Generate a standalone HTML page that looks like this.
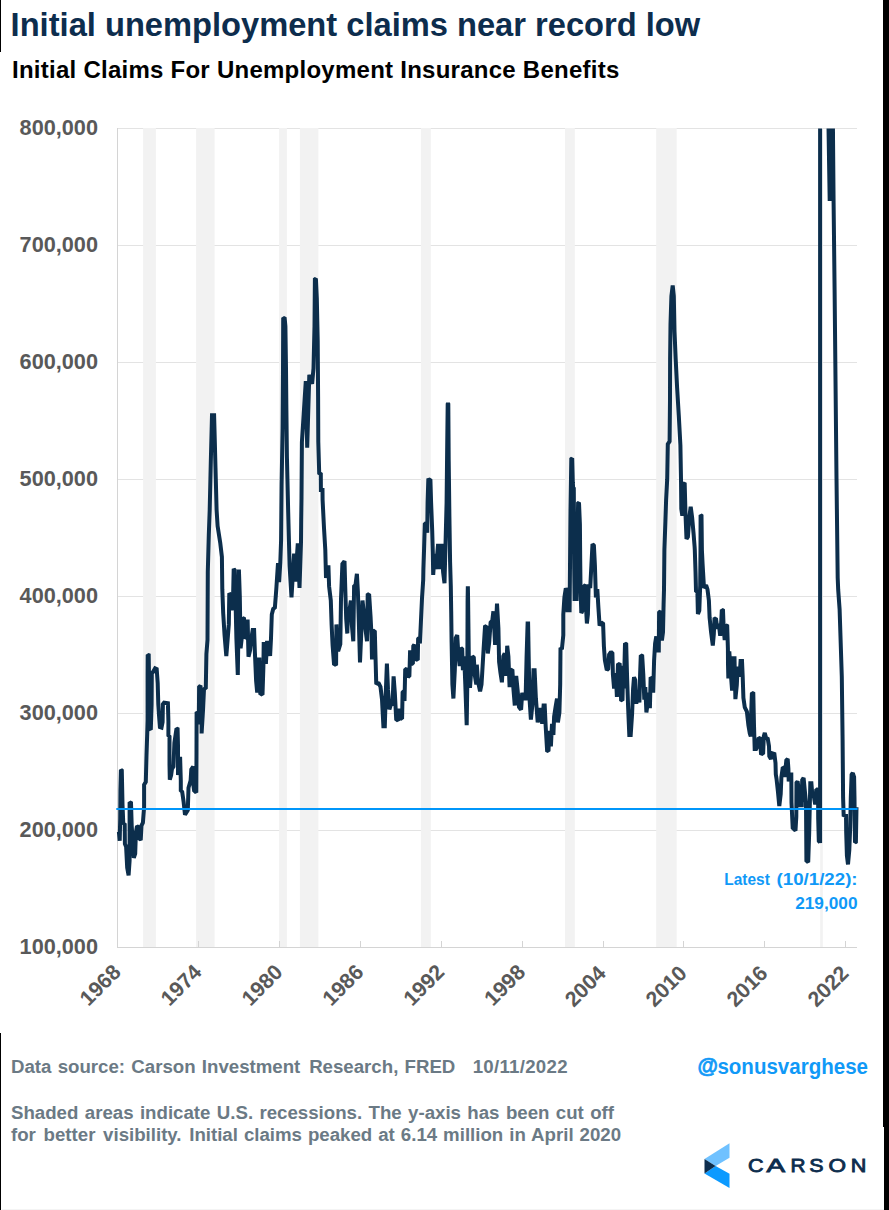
<!DOCTYPE html>
<html>
<head>
<meta charset="utf-8">
<title>Initial unemployment claims near record low</title>
<style>
  html,body{margin:0;padding:0;background:#fff;}
  body{width:889px;height:1210px;position:relative;overflow:hidden;font-family:"Liberation Sans",sans-serif;}
  .abs{position:absolute;white-space:nowrap;}
  #title{left:10.6px;top:4.8px;font-size:32.67px;font-weight:bold;color:#0d2d4d;line-height:40px;letter-spacing:0px;}
  #subtitle{left:12px;top:56.3px;letter-spacing:0.255px;font-size:24px;font-weight:bold;color:#000;line-height:28px;}
  .ylab{left:0;width:98px;text-align:right;font-size:21.7px;font-weight:bold;color:#595959;line-height:24px;}
  .foot{left:11px;font-size:18.67px;word-spacing:1.05px;font-weight:bold;color:#6b7a85;line-height:21.4px;}
  svg{position:absolute;left:0;top:0;}
</style>
</head>
<body>
<!-- edge bars -->
<div class="abs" style="left:0;top:0;width:1.3px;height:52px;background:#000;"></div>
<div class="abs" style="left:0;top:1033px;width:1.3px;height:177px;background:#000;"></div>
<div class="abs" style="left:883px;top:0;width:6px;height:1127px;background:#000;"></div>
<div class="abs" style="left:884.3px;top:1127px;width:4.7px;height:83px;background:#000;"></div>

<div class="abs" style="left:2px;top:1209px;width:882px;height:1px;background:#f4f4f4;"></div>
<div id="title" class="abs">Initial unemployment claims near record low</div>
<div id="subtitle" class="abs">Initial Claims For Unemployment Insurance Benefits</div>

<div class="abs ylab" style="top:115.7px;">800,000</div>
<div class="abs ylab" style="top:232.7px;">700,000</div>
<div class="abs ylab" style="top:349.7px;">600,000</div>
<div class="abs ylab" style="top:466.7px;">500,000</div>
<div class="abs ylab" style="top:583.7px;">400,000</div>
<div class="abs ylab" style="top:700.7px;">300,000</div>
<div class="abs ylab" style="top:817.7px;">200,000</div>
<div class="abs ylab" style="top:934.7px;">100,000</div>

<svg width="889" height="1210" viewBox="0 0 889 1210">
  <defs>
    <clipPath id="plot"><rect x="100" y="128.4" width="770" height="830"/></clipPath>
  </defs>
  <!-- gridlines -->
  <g stroke="#e3e3e3" stroke-width="1" fill="none" shape-rendering="crispEdges">
    <line x1="117.5" y1="128.5" x2="856.5" y2="128.5"/>
    <line x1="117.5" y1="245.5" x2="856.5" y2="245.5"/>
    <line x1="117.5" y1="362.5" x2="856.5" y2="362.5"/>
    <line x1="117.5" y1="479.5" x2="856.5" y2="479.5"/>
    <line x1="117.5" y1="596.5" x2="856.5" y2="596.5"/>
    <line x1="117.5" y1="713.5" x2="856.5" y2="713.5"/>
    <line x1="117.5" y1="830.5" x2="856.5" y2="830.5"/>
  </g>
  <!-- recession bands -->
  <g fill="#f2f2f2">
    <rect x="143.1" y="128" width="12.8" height="819"/>
    <rect x="196.1" y="128" width="18.5" height="819"/>
    <rect x="279.1" y="128" width="7.8" height="819"/>
    <rect x="299.9" y="128" width="18.5" height="819"/>
    <rect x="420.9" y="128" width="9.9" height="819"/>
    <rect x="565.0" y="128" width="9.8" height="819"/>
    <rect x="656.2" y="128" width="20.5" height="819"/>
    <rect x="820.2" y="128" width="2.6" height="819"/>
  </g>
  <!-- axes -->
  <g stroke="#d4d4d4" stroke-width="1" fill="none" shape-rendering="crispEdges">
    <line x1="117.5" y1="128" x2="117.5" y2="947.5"/>
    <line x1="117" y1="947.5" x2="856.5" y2="947.5"/>
    <line x1="198.5" y1="941" x2="198.5" y2="947"/>
    <line x1="279.5" y1="941" x2="279.5" y2="947"/>
    <line x1="360.5" y1="941" x2="360.5" y2="947"/>
    <line x1="441.5" y1="941" x2="441.5" y2="947"/>
    <line x1="522.5" y1="941" x2="522.5" y2="947"/>
    <line x1="603.5" y1="941" x2="603.5" y2="947"/>
    <line x1="683.5" y1="941" x2="683.5" y2="947"/>
    <line x1="764.5" y1="941" x2="764.5" y2="947"/>
    <line x1="845.5" y1="941" x2="845.5" y2="947"/>
  </g>
  <!-- data line -->
  <g clip-path="url(#plot)">
    <polyline fill="none" stroke="#0c2e4c" stroke-width="4" stroke-linejoin="miter" stroke-miterlimit="1.5" stroke-linecap="butt" points="118.9,831.8 119.7,840.7 120.2,818.5 120.4,790.3 120.9,769.9 121.8,770.6 122.5,804.4 123.3,824.1 124.7,823.4 124.9,843.8 126.1,846.6 127.2,867.7 128.6,875.4 129.6,860.6 129.6,818.5 129.6,802.3 131.0,803.0 131.7,825.5 132.8,843.8 133.8,857.8 135.2,853.6 135.9,832.5 137.0,826.2 138.4,826.9 139.0,839.5 140.8,838.8 141.5,825.5 142.9,822.7 144.1,807.2 144.1,784.7 145.8,781.9 146.5,755.2 147.2,734.1 147.6,720.0 147.6,710.3 147.6,675.2 147.7,654.8 148.7,655.2 149.1,682.2 149.8,728.6 150.2,729.2 150.8,729.8 151.6,704.5 151.8,673.9 153.4,671.2 155.1,668.3 156.7,669.0 157.7,683.0 158.3,704.5 159.0,715.0 159.9,727.1 161.5,727.6 162.6,722.0 162.9,704.3 164.1,702.7 167.9,703.2 168.4,721.5 168.4,735.5 169.5,736.6 169.5,764.5 169.8,779.6 171.1,775.3 172.0,768.8 173.5,766.7 174.4,743.0 176.5,728.5 177.6,729.0 178.0,745.5 178.0,775.0 178.7,766.6 180.1,756.7 180.8,780.6 180.8,790.5 182.2,791.9 183.6,801.7 185.0,814.8 187.8,810.2 188.5,787.7 190.6,780.6 191.3,769.4 193.2,766.6 193.2,783.5 194.1,790.5 196.3,792.6 196.5,752.5 196.6,713.1 197.9,712.4 198.8,724.4 199.1,687.1 200.5,685.7 201.6,710.3 201.6,733.5 203.0,710.3 204.0,689.2 205.8,687.8 206.4,654.1 207.5,640.0 207.8,571.5 208.8,535.0 209.7,510.0 210.8,462.0 212.0,415.2 214.1,415.2 214.8,441.0 215.5,468.0 216.6,510.0 217.6,526.0 220.2,542.6 221.9,557.0 222.3,589.2 223.2,613.1 224.6,635.6 226.3,656.0 227.7,638.5 228.8,624.4 229.3,593.4 230.8,594.9 231.6,610.3 233.0,600.5 233.7,568.8 234.7,570.2 235.5,599.1 236.4,638.5 237.8,675.0 238.3,638.5 238.9,569.5 239.8,596.3 240.6,648.3 241.7,638.5 242.6,618.1 244.0,618.8 244.8,638.5 246.2,637.0 247.6,619.5 248.5,656.7 250.2,649.7 251.3,638.5 252.7,630.0 254.1,630.0 254.9,652.5 256.1,680.6 257.2,692.6 258.3,659.5 259.4,659.5 260.3,693.3 262.5,694.7 263.4,666.6 263.7,644.1 265.1,644.1 265.9,663.8 267.0,642.7 268.4,642.7 270.1,656.0 271.0,638.5 271.8,614.5 273.2,608.9 274.9,607.5 276.3,589.2 278.0,563.2 279.1,582.2 280.3,562.5 281.1,540.0 281.6,484.4 282.6,428.0 283.0,370.0 283.2,317.8 284.7,318.5 285.4,326.3 286.0,368.5 286.4,410.6 286.9,456.3 288.2,512.5 289.6,566.0 291.5,597.3 294.1,553.5 295.2,581.7 297.8,543.4 299.5,588.0 301.0,542.3 301.2,520.0 301.5,498.0 301.9,442.2 303.7,414.1 305.8,381.1 307.2,447.8 309.3,374.8 312.1,383.9 313.5,368.5 314.5,326.3 314.9,279.4 315.9,278.7 316.8,298.1 317.7,340.3 318.1,396.6 318.3,442.0 319.2,473.0 320.8,474.0 320.9,490.0 322.5,490.0 322.6,500.0 324.0,528.0 325.3,550.0 326.0,578.0 328.4,565.3 329.1,586.4 330.8,600.5 331.6,624.4 332.6,645.5 334.0,663.8 336.1,665.2 336.4,624.4 337.2,649.7 338.6,649.7 340.3,644.1 341.0,599.1 342.4,563.9 344.5,561.1 345.2,586.4 346.2,618.8 347.3,633.5 348.1,607.5 349.5,610.3 350.9,600.5 351.8,624.4 353.3,641.3 354.1,586.4 355.5,585.0 356.9,573.8 357.9,592.0 358.9,624.4 360.0,662.4 361.4,630.0 362.5,600.5 363.9,613.1 365.4,628.6 367.0,641.3 367.7,594.9 369.1,594.1 370.6,617.4 371.5,635.6 372.0,659.5 372.9,631.4 374.8,630.7 375.5,656.7 376.2,682.1 376.3,684.1 378.4,682.7 380.5,686.9 382.0,699.5 383.4,726.3 384.8,726.3 385.8,692.5 386.9,663.7 388.0,689.7 389.4,709.4 391.1,703.8 392.5,705.2 393.6,676.3 394.8,692.5 396.2,719.2 398.1,720.6 398.8,708.7 400.2,719.2 402.1,717.8 402.6,692.5 403.8,691.1 404.5,701.0 405.2,670.0 406.8,668.6 408.0,677.0 409.4,675.6 410.1,650.3 411.5,664.4 412.9,663.0 413.3,646.1 414.3,644.7 415.7,660.2 417.8,658.8 418.1,639.1 418.9,637.7 419.9,643.3 420.9,622.2 422.0,598.3 423.2,580.0 423.4,569.2 424.1,548.1 424.8,524.2 426.2,522.8 427.2,532.7 427.6,502.5 428.3,480.0 430.4,479.3 431.1,502.5 432.2,530.7 432.8,551.8 433.2,574.9 434.6,553.8 436.0,569.2 438.1,543.9 439.5,569.2 441.6,543.9 443.1,572.0 444.5,583.3 446.6,502.5 447.2,446.3 447.7,404.1 448.0,402.9 448.3,404.1 448.7,460.3 449.4,516.6 450.1,562.2 450.8,586.1 451.2,611.4 451.6,642.0 452.4,684.4 453.4,698.5 454.8,670.3 455.8,638.0 457.2,635.2 458.3,653.4 459.7,666.1 460.8,647.8 462.2,649.2 462.9,670.3 464.2,656.3 465.3,684.4 466.7,725.2 467.3,684.4 467.6,600.0 467.8,588.2 467.9,588.2 468.1,600.0 468.8,656.3 470.0,687.9 471.2,670.3 472.3,656.3 473.8,657.7 474.9,675.9 476.3,684.4 476.8,664.7 478.0,681.6 480.1,691.4 481.5,684.4 482.2,673.1 483.6,649.2 485.0,626.7 486.4,626.0 487.8,653.4 489.2,642.2 490.6,622.5 492.3,620.4 493.4,611.3 495.1,645.0 497.0,603.5 498.4,628.1 499.1,661.9 500.5,673.1 501.9,682.3 503.3,656.3 504.7,653.4 506.1,675.9 507.2,645.7 508.4,656.3 509.6,687.2 511.0,670.3 512.4,669.6 513.4,688.6 514.8,705.5 516.2,675.9 517.6,690.0 519.0,706.9 521.1,709.7 522.2,692.8 523.9,698.5 525.6,698.5 526.6,656.3 527.6,623.6 528.1,623.6 528.8,663.3 529.5,698.5 530.9,719.5 532.3,705.5 533.5,670.3 534.6,670.3 535.9,698.5 537.7,722.4 539.4,709.7 540.8,709.7 542.2,723.8 543.6,705.5 544.7,705.5 545.7,726.6 547.1,750.5 548.5,751.2 549.2,730.8 550.9,746.3 552.0,723.8 553.4,735.0 554.1,716.7 555.6,706.9 557.0,698.5 557.9,722.4 559.4,712.5 560.2,684.4 560.5,647.8 561.9,649.2 563.3,635.2 563.3,614.4 564.4,597.5 565.8,588.4 566.8,590.5 567.5,610.2 569.6,610.2 570.0,566.6 570.5,510.3 571.3,459.0 572.2,458.3 572.8,482.2 573.2,489.2 573.8,489.2 574.0,524.4 574.2,566.6 574.6,598.9 576.6,598.9 577.2,552.5 578.1,503.3 579.0,502.6 579.9,524.4 580.2,559.5 580.5,586.3 581.3,613.0 582.7,610.2 584.1,586.3 585.5,584.9 586.1,608.8 586.9,623.5 587.9,614.4 588.6,586.3 590.3,586.3 591.4,565.2 592.5,544.1 593.9,545.5 594.9,565.2 595.9,597.5 597.3,589.1 598.4,607.4 599.6,625.6 601.1,622.3 603.1,623.8 603.9,646.3 604.9,660.3 606.8,670.2 608.2,668.8 609.1,654.7 611.0,651.9 612.4,653.3 612.9,674.4 614.1,688.5 615.8,673.0 616.9,696.9 618.0,663.8 619.7,664.5 621.1,699.7 622.5,700.4 623.2,665.9 623.9,688.5 625.0,643.4 626.2,644.1 627.0,674.4 628.1,706.7 629.3,734.9 630.7,734.9 632.1,713.8 633.1,688.5 634.0,677.2 635.2,680.0 636.3,703.9 637.7,691.3 639.4,702.5 640.1,674.4 640.8,655.4 642.2,656.1 643.3,674.4 644.3,699.7 645.3,687.0 646.4,712.4 647.8,702.5 648.5,692.7 649.9,708.1 650.6,678.6 652.3,677.9 653.2,692.7 654.1,660.3 655.1,643.4 656.3,636.4 657.7,650.5 658.8,650.5 659.1,612.5 660.5,611.1 661.9,640.6 663.0,632.2 663.6,604.1 664.0,590.0 664.4,549.5 665.4,521.4 666.1,500.3 667.2,479.2 667.8,444.1 669.6,441.3 670.0,400.0 670.1,359.4 670.5,324.2 671.4,296.1 672.7,285.5 673.8,296.1 674.5,331.3 675.7,359.4 677.1,387.5 678.8,415.6 680.4,445.2 681.0,479.2 681.3,508.8 682.3,515.8 683.0,483.4 684.7,484.1 685.5,514.4 686.5,539.0 687.9,536.9 689.3,517.2 690.7,506.7 692.1,517.2 693.5,532.7 694.6,546.7 694.8,550.0 695.5,571.1 696.0,590.8 697.4,592.2 697.9,614.0 699.3,610.5 700.2,585.2 700.5,550.0 700.6,515.1 701.5,515.8 701.9,550.0 702.6,564.1 703.0,571.1 704.0,588.0 706.1,585.2 707.5,589.4 708.9,600.6 709.6,617.5 711.0,631.6 712.8,645.6 713.8,634.4 714.5,618.9 715.9,618.2 717.3,628.8 718.8,623.8 720.2,635.8 721.3,620.3 721.8,609.8 723.0,610.5 723.7,628.8 724.7,640.0 725.8,625.2 727.2,625.9 727.9,648.5 728.0,663.9 728.3,676.6 728.9,676.6 729.3,651.3 730.3,666.7 732.1,690.6 733.5,658.3 734.5,658.3 735.4,699.1 736.8,685.0 737.7,666.7 739.6,676.6 740.6,661.1 742.0,661.1 742.7,676.6 743.4,697.7 744.8,707.5 746.9,711.7 748.4,725.2 749.8,733.6 750.8,736.4 751.0,718.1 751.9,692.8 753.3,693.5 754.0,725.2 754.7,749.1 756.1,749.1 757.5,746.3 758.6,737.8 760.0,738.5 761.0,753.3 763.1,754.0 763.8,736.4 764.8,732.9 766.2,738.5 767.6,737.8 769.0,746.3 769.3,756.1 770.9,758.9 772.3,753.3 774.4,754.0 775.5,763.1 775.8,774.4 776.5,778.6 777.9,791.3 779.3,806.0 780.7,794.1 781.4,777.2 782.8,767.4 784.2,768.1 784.9,777.2 786.3,760.3 787.7,758.9 788.4,768.8 788.7,781.4 789.9,774.4 791.3,774.4 791.5,802.5 792.7,827.8 795.5,830.6 796.3,816.6 796.5,782.8 797.6,781.4 799.0,791.3 800.0,805.3 801.8,805.3 802.2,780.0 803.6,777.9 804.6,788.5 806.0,802.5 806.4,860.6 808.2,862.1 809.2,832.5 810.3,783.3 811.4,783.3 812.4,795.9 813.8,795.9 815.2,804.4 816.2,790.3 818.1,788.9 818.2,818.5 818.8,841.0 820.0,842.4 820.1,843.0 820.1,90.0 827.9,90.0 829.7,201.0 831.6,90.0 832.6,90.0 833.6,203.0 834.6,290.0 836.5,478.0 837.7,578.0 838.2,590.0 839.6,609.0 841.8,677.0 842.6,740.0 842.9,774.7 843.1,797.9 843.7,816.4 846.0,814.1 846.2,832.6 846.9,855.7 848.0,864.4 849.3,850.0 850.2,826.8 850.8,797.9 851.6,774.7 852.8,773.0 854.1,777.0 854.5,797.9 854.7,821.0 855.0,842.4 855.9,841.9 856.5,807.1"/>
  </g>
  <!-- latest line -->
  <line x1="116.3" y1="809" x2="857.6" y2="809" stroke="#0096fa" stroke-width="2.1"/>
  <!-- x labels -->
  <g font-family="Liberation Sans, sans-serif" font-weight="bold" font-size="21.3" fill="#595959" text-anchor="end">
    <text transform="translate(122.1,973.4) rotate(-45)">1968</text>
    <text transform="translate(203.0,973.4) rotate(-45)">1974</text>
    <text transform="translate(283.9,973.4) rotate(-45)">1980</text>
    <text transform="translate(364.8,973.4) rotate(-45)">1986</text>
    <text transform="translate(445.7,973.4) rotate(-45)">1992</text>
    <text transform="translate(526.6,973.4) rotate(-45)">1998</text>
    <text transform="translate(607.2,974.6) rotate(-45)">2004</text>
    <text transform="translate(688.1,974.6) rotate(-45)">2010</text>
    <text transform="translate(769.0,974.6) rotate(-45)">2016</text>
    <text transform="translate(849.9,974.6) rotate(-45)">2022</text>
  </g>
  <!-- latest label -->
  <g font-family="Liberation Sans, sans-serif" font-weight="bold" font-size="16.6" fill="#1099f7">
    <text x="724.3" y="885.4" textLength="45.5" lengthAdjust="spacingAndGlyphs">Latest</text>
    <text x="776.6" y="885.4" textLength="81" lengthAdjust="spacingAndGlyphs">(10/1/22):</text>
    <text x="795.2" y="908.7" textLength="62.3" lengthAdjust="spacingAndGlyphs">219,000</text>
  </g>
  <!-- handle -->
  <text x="697.6" y="1072.6" font-family="Liberation Sans, sans-serif" font-weight="bold" font-size="22.6" fill="#1099f7" stroke="#1099f7" stroke-width="0.7" textLength="20.4" lengthAdjust="spacingAndGlyphs">@</text>
  <text x="717.4" y="1073.8" font-family="Liberation Sans, sans-serif" font-weight="bold" font-size="22.8" fill="#1099f7" textLength="150.6" lengthAdjust="spacingAndGlyphs">sonusvarghese</text>
  <!-- Carson logo -->
  <polygon points="729.5,1143.3 729.5,1157.8 715.6,1165.9 704.5,1158.9" fill="#6fc1ff"/>
  <polygon points="704.5,1173.4 715.6,1165.9 729.5,1173.8 729.5,1188.1" fill="#0c9aff"/>
  <polygon points="704.5,1158.9 715.6,1165.9 704.5,1173.4" fill="#0d2d4d"/>
  <g font-family="Liberation Sans, sans-serif" font-size="17.6" fill="#0d2d4d" stroke="#0d2d4d" stroke-width="0.8">
    <text x="748.1" y="1171.9" textLength="15.6" lengthAdjust="spacingAndGlyphs">C</text>
    <text x="766.5" y="1171.9" textLength="18.6" lengthAdjust="spacingAndGlyphs">A</text>
    <text x="790.4" y="1171.9" textLength="15.0" lengthAdjust="spacingAndGlyphs">R</text>
    <text x="809.2" y="1171.9" textLength="14.3" lengthAdjust="spacingAndGlyphs">S</text>
    <text x="828.5" y="1171.9" textLength="17.5" lengthAdjust="spacingAndGlyphs">O</text>
    <text x="850.7" y="1171.9" textLength="15.6" lengthAdjust="spacingAndGlyphs">N</text>
  </g>
</svg>

<div class="abs foot" style="top:1056.3px;">Data source: Carson Investment <span style="margin-left:2.6px">Research, FRED</span></div>
<div class="abs foot" style="top:1056.3px;left:auto;right:321.2px;letter-spacing:0.28px;">10/11/2022</div>
<div class="abs foot" style="top:1102.4px;"><span style="word-spacing:1.2px">Shaded areas indicate U.S. recessions. The y-axis has been cut off</span><br><span style="word-spacing:2.5px">for better visibility. </span><span style="word-spacing:0.8px">Initial claims peaked at 6.14 million in April 2020</span></div>
</body>
</html>
